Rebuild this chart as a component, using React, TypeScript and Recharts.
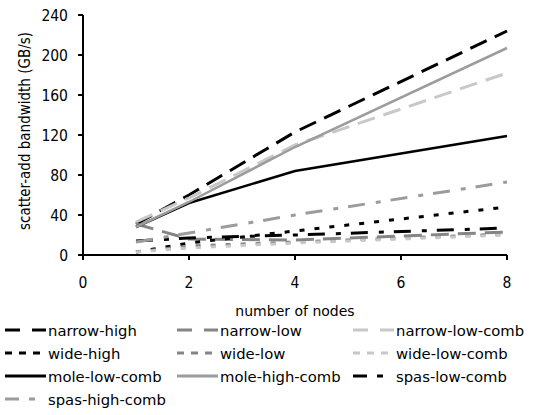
import { LineChart, Line, XAxis, YAxis } from "recharts";

// node counts (x) and bandwidth per config in GB/s
const nodes = [1, 2, 4, 8];
const narrowHigh = [31, 60, 123, 224];
const narrowLow = [31, 16, 15, 23];
const narrowLowComb = [33, 57, 110, 182];
const wideHigh = [3, 12, 24, 48];
const wideLow = [3, 9, 13, 21];
const wideLowComb = [3, 7, 12, 20];
const moleLowComb = [28, 52, 84, 119];
const moleHighComb = [28, 53, 108, 207];
const spasLowComb = [14, 17, 20, 27];
const spasHighComb = [13, 22, 40, 73];

const xTicks = [0, 2, 4, 6, 8];
const yTicks = [0, 40, 80, 120, 160, 200, 240];

const BLACK = "#000000";
const GRAY = "#858585";
const MID = "#9c9c9c";
const LIGHT = "#c8c8c8";

// chart dash patterns / legend dash patterns
const LONG = { chart: "18 9", legend: "15 12" };
const SHORT = { chart: "5 10", legend: "7 7" };
const DASHDOT = { chart: "17 11 5 10", legend: "14 10 6 20" };

const series = [
  { key: "narrowHigh", name: "narrow-high", values: narrowHigh, color: BLACK, dash: LONG, w: 3 },
  { key: "narrowLow", name: "narrow-low", values: narrowLow, color: GRAY, dash: LONG, w: 3 },
  { key: "narrowLowComb", name: "narrow-low-comb", values: narrowLowComb, color: LIGHT, dash: LONG, w: 3 },
  { key: "wideHigh", name: "wide-high", values: wideHigh, color: BLACK, dash: SHORT, w: 3 },
  { key: "wideLow", name: "wide-low", values: wideLow, color: GRAY, dash: SHORT, w: 3 },
  { key: "wideLowComb", name: "wide-low-comb", values: wideLowComb, color: LIGHT, dash: SHORT, w: 3 },
  { key: "moleLowComb", name: "mole-low-comb", values: moleLowComb, color: BLACK, dash: undefined, w: 2.5 },
  { key: "moleHighComb", name: "mole-high-comb", values: moleHighComb, color: MID, dash: undefined, w: 2.5 },
  { key: "spasLowComb", name: "spas-low-comb", values: spasLowComb, color: BLACK, dash: DASHDOT, w: 3 },
  { key: "spasHighComb", name: "spas-high-comb", values: spasHighComb, color: MID, dash: DASHDOT, w: 3 },
];

const data = nodes.map((n, i) => {
  const row: Record<string, number> = { nodes: n };
  series.forEach((s) => (row[s.key] = s.values[i]));
  return row;
});

const FONT = "'DejaVu Sans', Verdana, sans-serif";
const tickText = { fill: "#000", fontSize: 15.5, fontFamily: FONT, style: { fontStretch: "condensed" } };

const XTick = (props: any) => (
  <text x={props.x} y={props.y} dy={28} textAnchor="middle" {...tickText}>
    {props.payload.value}
  </text>
);

const YTick = (props: any) => (
  <text x={props.x} y={props.y} dx={-10} dy={5.5} textAnchor="end" {...tickText}>
    {props.payload.value}
  </text>
);

const legendCols = [5, 177, 353];
const legendRows = [330, 353, 376, 399];

export default function App() {
  return (
    <div style={{ position: "absolute", left: 0, top: 0, width: 542, height: 415, background: "#fff", fontFamily: FONT }}>
      <LineChart width={542} height={325} data={data} margin={{ top: 15, right: 35, left: 0, bottom: 0 }}>
        <XAxis
          dataKey="nodes"
          type="number"
          domain={[0, 8]}
          ticks={xTicks}
          tick={<XTick />}
          tickSize={5}
          tickMargin={0}
          height={70}
          axisLine={{ stroke: "#000", strokeWidth: 2 }}
          tickLine={{ stroke: "#000", strokeWidth: 2 }}
          label={{ value: "number of nodes", position: "insideBottom", offset: 9, fill: "#000", fontSize: 14, fontFamily: FONT }}
        />
        <YAxis
          type="number"
          domain={[0, 240]}
          ticks={yTicks}
          tick={<YTick />}
          tickSize={5}
          tickMargin={0}
          width={83}
          axisLine={{ stroke: "#000", strokeWidth: 2 }}
          tickLine={{ stroke: "#000", strokeWidth: 2 }}
        />
        {series.map((s) => (
          <Line
            key={s.key}
            type="linear"
            dataKey={s.key}
            name={s.name}
            stroke={s.color}
            strokeWidth={s.w}
            strokeDasharray={s.dash?.chart}
            dot={false}
            activeDot={false}
            isAnimationActive={false}
          />
        ))}
      </LineChart>

      {/* y axis title */}
      <div
        style={{
          position: "absolute",
          left: 25,
          top: 131,
          transform: "translate(-50%, -50%) rotate(-90deg)",
          whiteSpace: "nowrap",
          fontSize: 15,
          fontStretch: "condensed",
          lineHeight: "16px",
        }}
      >
        scatter-add bandwidth (GB/s)
      </div>

      {/* legend */}
      {series.map((s, i) => (
        <div
          key={s.key}
          style={{
            position: "absolute",
            left: legendCols[i % 3],
            top: legendRows[Math.floor(i / 3)] - 9,
            height: 18,
            display: "flex",
            alignItems: "center",
            fontSize: 14.8,
            whiteSpace: "nowrap",
          }}
        >
          <svg width={41} height={18} style={{ marginRight: 2 }}>
            <line x1={0} y1={9} x2={41} y2={9} stroke={s.color} strokeWidth={3} strokeDasharray={s.dash?.legend} />
          </svg>
          {s.name}
        </div>
      ))}
    </div>
  );
}
